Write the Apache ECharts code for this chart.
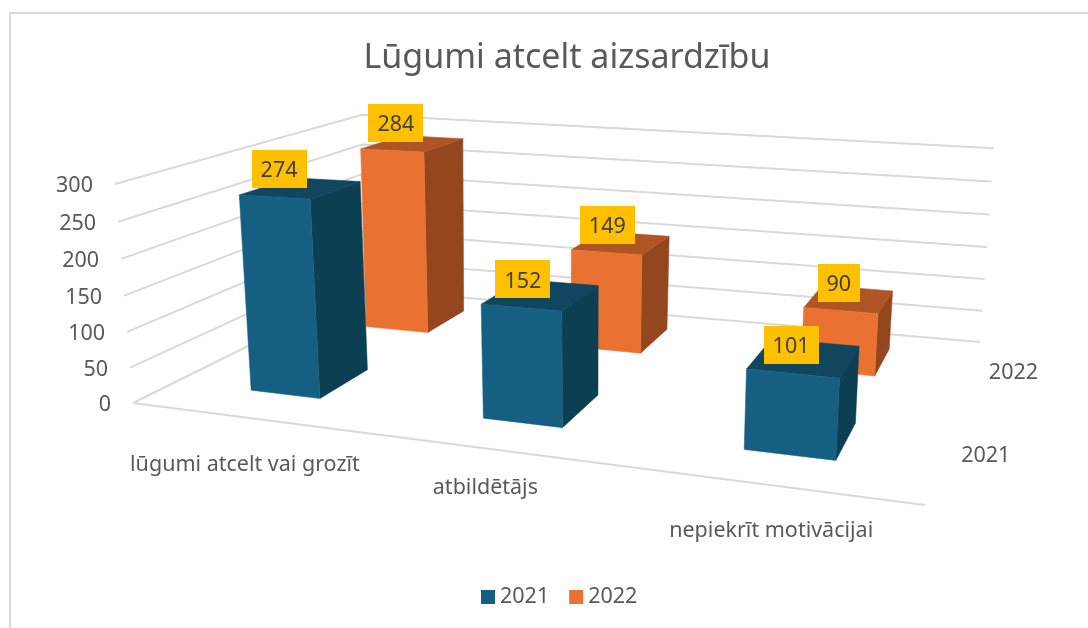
<!DOCTYPE html>
<html>
<head>
<meta charset="utf-8">
<title>Lūgumi atcelt aizsardzību</title>
<script src="https://cdn.jsdelivr.net/npm/echarts@6/dist/echarts.min.js"></script>
<style>html,body{margin:0;padding:0;background:#fff}#main{width:1088px;height:628px}</style>
</head>
<body>
<div id="main"></div>
<script>
// data
var categories = ['lūgumi atcelt vai grozīt', 'atbildētājs', 'nepiekrīt motivācijai'];
var seriesNames = ['2021', '2022'];
var values2021 = [274, 152, 101];
var values2022 = [284, 149, 90];
var tickValues = [0, 50, 100, 150, 200, 250, 300];

var FONT = '"Noto Sans", sans-serif';
var W = 1088, H = 628;

// camera for the 3d box: u along categories, v into depth, w up
var floorQuad = [[133, 403], [925, 505], [980, 342], [363, 289]];
var upVec = [-22.4, -226, -0.038]; // what w=1 adds to the homogeneous point

function floorCoefs(q) {
  var dx1 = q[1][0] - q[2][0], dx2 = q[3][0] - q[2][0], sx = q[0][0] - q[1][0] + q[2][0] - q[3][0];
  var dy1 = q[1][1] - q[2][1], dy2 = q[3][1] - q[2][1], sy = q[0][1] - q[1][1] + q[2][1] - q[3][1];
  var den = dx1 * dy2 - dx2 * dy1;
  var g = (sx * dy2 - dx2 * sy) / den, h = (dx1 * sy - sx * dy1) / den;
  return {
    a: q[1][0] - q[0][0] + g * q[1][0], b: q[3][0] - q[0][0] + h * q[3][0], c: q[0][0],
    d: q[1][1] - q[0][1] + g * q[1][1], e: q[3][1] - q[0][1] + h * q[3][1], f: q[0][1],
    g: g, h: h
  };
}
var cam = floorCoefs(floorQuad);

function project(u, v, w) {
  var n = cam.g * u + cam.h * v + 1 + upVec[2] * w;
  var x = (cam.a * u + cam.b * v + cam.c + upVec[0] * w) / n;
  var y = (cam.d * u + cam.e * v + cam.f + upVec[1] * w) / n;
  // small fix so the back wall ends where the picture has them
  var back = v * v * v;
  return [x + w * back * 6 * (1 - u), y + w * back * (-4 + 11 * u)];
}

// the hidden full size grid gives the scales, results are turned into box units
function toBox(api, cat, val) {
  var c = api.coord([cat, val]);
  return { u: c[0] / W, w: (H - c[1]) / H };
}

var barHalfV = 0.104;
var barHalfU = { '2021': [0.0525, 0.0525, 0.0525], '2022': [0.0525, 0.0525, 0.049] };
var barShiftU = { '2021': [0.0045, 0.009, 0.005], '2022': [0.003, 0.005, 0.0015] };
var depthCenters = { '2021': 0.257, '2022': 0.775 };
var palette = {
  '2021': { front: '#156082', side: '#0D3F53', top: '#10475F' },
  '2022': { front: '#E97132', side: '#94471F', top: '#AF5424' }
};

function face(points, fill) {
  return { type: 'polygon', shape: { points: points }, style: { fill: fill, stroke: fill, lineWidth: 0.5 } };
}

function barItem(name) {
  return function (params, api) {
    var b = toBox(api, api.value(0), api.value(1));
    var uc = b.u + barShiftU[name][params.dataIndex];
    var hw = barHalfU[name][params.dataIndex];
    var u0 = uc - hw, u1 = uc + hw;
    var vc = depthCenters[name], v0 = vc - barHalfV, v1 = vc + barHalfV;
    var col = palette[name];
    var lab = project(uc, vc - 0.09, b.w);
    var txt = String(api.value(1));
    var bw = 16 + 13 * txt.length, bh = 38;
    var cx = lab[0] + 2 - 6 * b.u, cy = lab[1] - 26.5;
    return {
      type: 'group',
      children: [
        face([project(u1, v0, 0), project(u1, v1, 0), project(u1, v1, b.w), project(u1, v0, b.w)], col.side),
        face([project(u0, v0, b.w), project(u1, v0, b.w), project(u1, v1, b.w), project(u0, v1, b.w)], col.top),
        face([project(u0, v0, 0), project(u1, v0, 0), project(u1, v0, b.w), project(u0, v0, b.w)], col.front),
        { type: 'rect', z2: 50, shape: { x: Math.round(cx - bw / 2), y: Math.round(cy - bh / 2), width: bw, height: bh }, style: { fill: '#FFC000' } },
        { type: 'text', z2: 51, style: { x: cx, y: cy + 2, text: txt, fill: '#404040', font: '21.5px ' + FONT, align: 'center', verticalAlign: 'middle' } }
      ]
    };
  };
}

function gridLineItem(params, api) {
  var val = api.value(1);
  var b = toBox(api, 0, val);
  var start = project(0, 0, b.w);
  var lineStyle = { stroke: '#D9D9D9', lineWidth: 2, fill: null };
  var kids = [
    { type: 'polyline', shape: { points: [start, project(0, 1, b.w), project(1, 1, b.w)] }, style: lineStyle },
    { type: 'text', style: { x: start[0] - 22, y: start[1] + 2, text: String(val), fill: '#595959', font: '21.5px ' + FONT, align: 'right', verticalAlign: 'middle' } }
  ];
  if (val === 0) {
    kids.push({ type: 'polyline', shape: { points: [start, project(1, 0, 0)] }, style: lineStyle });
  }
  return { type: 'group', children: kids };
}

var categoryNudge = [[3, 48], [1, 40], [5, 46.5]];
function categoryLabelItem(params, api) {
  var i = api.value(0);
  var b = toBox(api, i, 0);
  var p = project(b.u, 0, 0);
  return {
    type: 'text',
    style: { x: p[0] + categoryNudge[i][0], y: p[1] + categoryNudge[i][1], text: categories[i], fill: '#595959', font: '21.5px ' + FONT, align: 'center', verticalAlign: 'middle' }
  };
}

function depthLabelItem(params, api) {
  var name = seriesNames[api.value(0)];
  var p = project(1, depthCenters[name], 0);
  return {
    type: 'text',
    style: { x: p[0] + 43, y: p[1] + 3, text: name, fill: '#595959', font: '21.5px ' + FONT, align: 'center', verticalAlign: 'middle' }
  };
}

function barData(vals) {
  return vals.map(function (v, i) { return [i, v]; });
}

var myChart = echarts.init(document.getElementById('main'), null, { renderer: 'canvas' });
myChart.setOption({
  animation: false,
  backgroundColor: '#fff',
  title: {
    text: 'Lūgumi atcelt aizsardzību',
    left: 562, top: 36, textAlign: 'center',
    textStyle: { color: '#595959', fontFamily: FONT, fontWeight: 'normal', fontSize: 34 }
  },
  legend: {
    data: seriesNames,
    left: 481, top: 586, padding: 0,
    icon: 'rect', itemWidth: 14, itemHeight: 14, itemGap: 20,
    textStyle: { color: '#595959', fontFamily: FONT, fontSize: 21.5 },
    selectedMode: false
  },
  grid: { left: 0, right: 0, top: 0, bottom: 0, show: false },
  xAxis: { type: 'category', data: categories, show: false },
  yAxis: { type: 'value', min: 0, max: 300, interval: 50, show: false },
  graphic: [
    { type: 'polyline', silent: true, shape: { points: [[10, H], [10, 13], [W, 13]] }, style: { stroke: '#D9D9D9', lineWidth: 2, fill: null } }
  ],
  series: [
    { type: 'custom', silent: true, renderItem: gridLineItem, data: tickValues.map(function (t) { return [0, t]; }), z: 1 },
    { type: 'custom', silent: true, renderItem: categoryLabelItem, data: categories.map(function (c, i) { return [i, 0]; }), z: 1 },
    { type: 'custom', silent: true, renderItem: depthLabelItem, data: seriesNames.map(function (s, i) { return [i, 0]; }), z: 1 },
    { name: '2022', type: 'custom', silent: true, renderItem: barItem('2022'), data: barData(values2022), itemStyle: { color: palette['2022'].front }, z: 2 },
    { name: '2021', type: 'custom', silent: true, renderItem: barItem('2021'), data: barData(values2021), itemStyle: { color: palette['2021'].front }, z: 3 }
  ]
});
</script>
</body>
</html>
